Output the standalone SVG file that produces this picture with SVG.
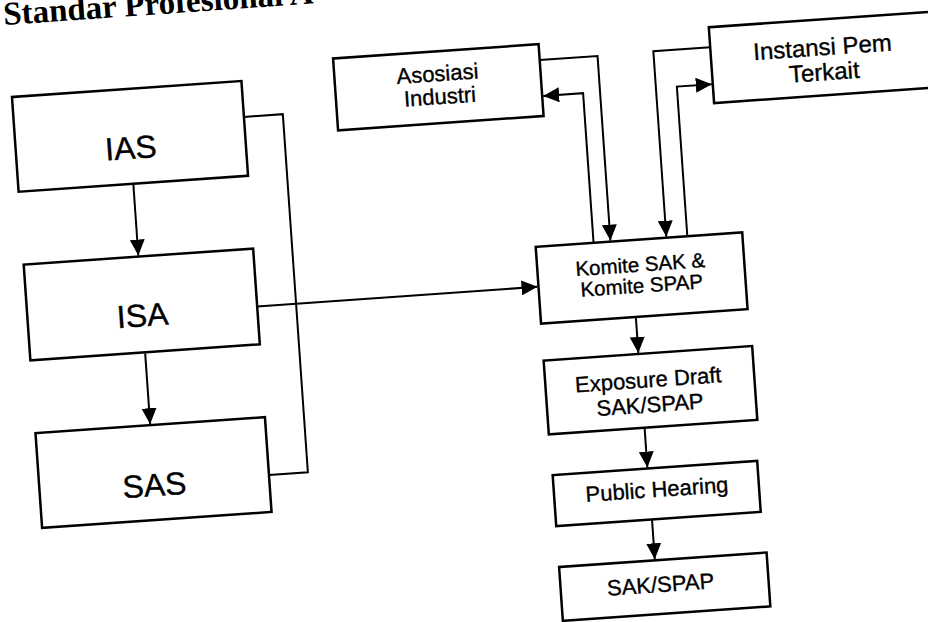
<svg xmlns="http://www.w3.org/2000/svg" width="928" height="622" viewBox="0 0 928 622">
<style>
.box{fill:#fff;stroke:#000;stroke-width:2.5}
.lbl{font-family:"Liberation Sans",Arial,sans-serif;fill:#000;stroke:#000;stroke-width:0.35;text-anchor:middle}
.big{font-size:32px}
.con{fill:none;stroke:#000;stroke-width:2}
.title{font-family:"Liberation Serif","Times New Roman",serif;font-size:33px;font-weight:bold;fill:#000}
</style>
<defs>
<marker id="ah" markerUnits="userSpaceOnUse" markerWidth="16" markerHeight="15" refX="16" refY="7.5" orient="auto">
<path d="M0,0 L16,7.5 L0,15 z" fill="#000"/>
</marker>
</defs>
<rect width="928" height="622" fill="#fff"/>
<text class="title" x="4" y="25" transform="rotate(-4 4 25)">Standar Profesional A</text>
<g transform="rotate(-4 464 311)">
<g id="connectors">
<path class="con" d="M143,161 V233" marker-end="url(#ah)"/>
<path class="con" d="M143,331 V402" marker-end="url(#ah)"/>
<path class="con" d="M258,102 H297 V461 H258"/>
<path class="con" d="M258,292 H539" marker-end="url(#ah)"/>
<path class="con" d="M557,66 H615 V251" marker-end="url(#ah)"/>
<path class="con" d="M598,252 V102 H558" marker-end="url(#ah)"/>
<path class="con" d="M728,65 H671 V251" marker-end="url(#ah)"/>
<path class="con" d="M692,252 V102 H727" marker-end="url(#ah)"/>
<path class="con" d="M635,329 V365" marker-end="url(#ah)"/>
<path class="con" d="M636,440 V480" marker-end="url(#ah)"/>
<path class="con" d="M637,532 V572" marker-end="url(#ah)"/>
</g>
<g id="ias"><rect class="box" x="28" y="66" width="230" height="95"/><text class="lbl big" x="143" y="136">IAS</text></g>
<g id="isa"><rect class="box" x="28" y="234" width="230" height="96"/><text class="lbl big" x="143" y="304">ISA</text></g>
<g id="sas"><rect class="box" x="28" y="403" width="230" height="95"/><text class="lbl big" x="143" y="474">SAS</text></g>
<g id="asosiasi"><rect class="box" x="351" y="50" width="206" height="72"/><text class="lbl" font-size="22" x="454" y="80">Asosiasi</text><text class="lbl" font-size="22" x="455" y="103">Industri</text></g>
<g id="instansi"><rect class="box" x="728" y="45" width="232" height="76"/><text class="lbl" font-size="24" x="840" y="81">Instansi Pem</text><text class="lbl" font-size="24" x="840" y="106">Terkait</text></g>
<g id="komite"><rect class="box" x="540" y="252" width="207" height="77"/><text class="lbl" font-size="20.5" x="643" y="284">Komite SAK &amp;</text><text class="lbl" font-size="20.5" x="643" y="305">Komite SPAP</text></g>
<g id="exposure"><rect class="box" x="540" y="366" width="209" height="74"/><text class="lbl" font-size="22" x="643" y="400">Exposure Draft</text><text class="lbl" font-size="22" x="643" y="425">SAK/SPAP</text></g>
<g id="public"><rect class="box" x="541" y="481" width="205" height="51"/><text class="lbl" font-size="22" x="644" y="510">Public Hearing</text></g>
<g id="sakspap"><rect class="box" x="541" y="573" width="208" height="54"/><text class="lbl" font-size="22" x="641" y="605">SAK/SPAP</text></g>
</g>
</svg>
